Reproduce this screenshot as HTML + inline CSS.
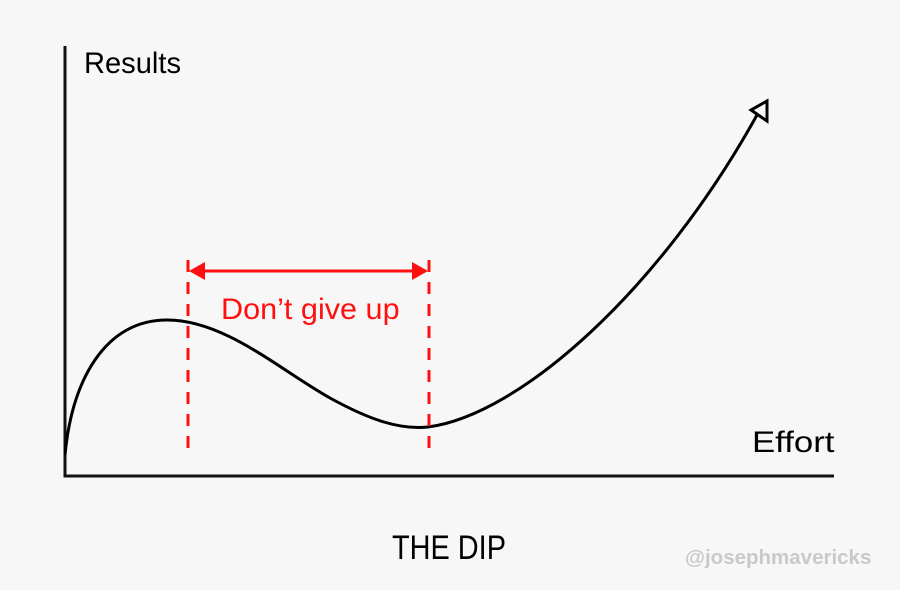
<!DOCTYPE html>
<html><head><style>
html,body{margin:0;padding:0;background:#f7f7f7;}
svg{display:block}
</style></head><body>
<svg width="900" height="590" viewBox="0 0 900 590" xmlns="http://www.w3.org/2000/svg">
<rect width="900" height="590" fill="#f7f7f7"/>
<path d="M65,46 L65,476 L834,476" fill="none" stroke="#111" stroke-width="3"/>
<path d="M65,455 C72,380 105,320 167,320 C225,320 280,370 330,398 C370,420 400,430 428,427 C520,415 660,290 757,115" fill="none" stroke="#000" stroke-width="3"/>
<polygon points="751,110 767,101 767,121" fill="#f7f7f7" stroke="#000" stroke-width="3" stroke-linejoin="miter"/>
<g stroke="#ff1010" stroke-width="3" stroke-dasharray="12,10">
<line x1="188" y1="260" x2="188" y2="452"/>
<line x1="429" y1="260" x2="429" y2="452"/>
</g>
<line x1="200" y1="271" x2="418" y2="271" stroke="#ff1010" stroke-width="3"/>
<polygon points="189,271 205,262 205,280" fill="#ff1010"/>
<polygon points="428,271 412,262 412,280" fill="#ff1010"/>
<g font-family="'Liberation Sans Narrow','Liberation Sans',sans-serif">
<text x="84" y="73" font-size="30" fill="#000" transform="translate(84,73) scale(0.97,1) translate(-84,-73)">Results</text>
<text x="221" y="319" font-size="30" fill="#ff1010" transform="translate(221,319) scale(1.02,1) translate(-221,-319)">Don’t give up</text>
<text x="752" y="452" font-size="30" fill="#000" transform="translate(752,452) scale(1.16,1) translate(-752,-452)">Effort</text>
<text x="392" y="559" font-size="34" fill="#000" transform="translate(392,559) scale(0.85,1) translate(-392,-559)">THE DIP</text>
</g>
<text x="685" y="564" font-family="'Liberation Sans',sans-serif" font-weight="bold" font-size="20.5" fill="#c9c9c9">@josephmavericks</text>
</svg>
</body></html>
